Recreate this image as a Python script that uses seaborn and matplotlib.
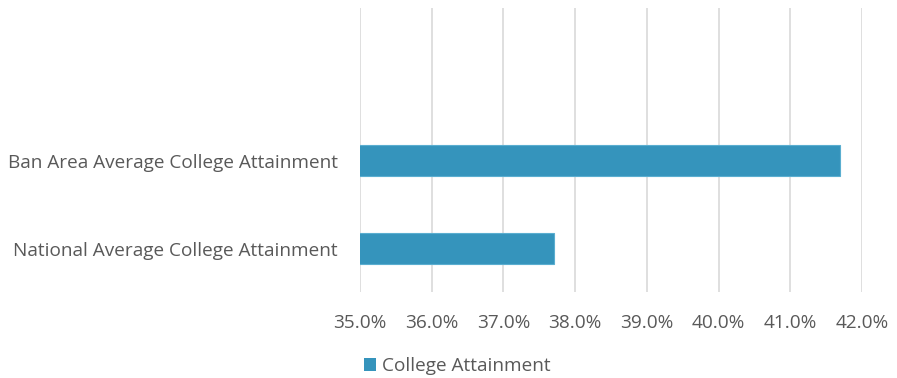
import matplotlib
matplotlib.use("Agg")
import matplotlib.pyplot as plt
import seaborn as sns
import pandas as pd
from matplotlib.ticker import PercentFormatter, FixedLocator
from matplotlib.patches import Patch

categories = ["Ban Area Average College Attainment", "National Average College Attainment"]
values = [41.7, 37.7]
series_name = "College Attainment"
x_ticks = [35, 36, 37, 38, 39, 40, 41, 42]

sns.set_theme(style="white")
plt.rcParams["font.family"] = ["Open Sans", "DejaVu Sans"]

text_color = "#595959"
bar_color = "#3594BC"
grid_color = "#DCDCDC"

df = pd.DataFrame({"category": categories, "value": values})

fig = plt.figure(figsize=(8.97, 3.78), dpi=100)
ax = fig.add_axes([360 / 897, (378 - 292) / 378, (862 - 360) / 897, (292 - 8) / 378])

sns.barplot(data=df, x="value", y="category", orient="h", color=bar_color,
            saturation=1, width=0.35, edgecolor="#5AAED0", linewidth=0.8, ax=ax)

ax.set_xlim(35, 42)
ax.set_ylim(1.494, -1.733)
ax.xaxis.set_major_locator(FixedLocator(x_ticks))
ax.xaxis.set_major_formatter(PercentFormatter(decimals=1))
ax.grid(axis="x", color=grid_color, linewidth=1.3)
ax.set_axisbelow(True)
for s in ax.spines.values():
    s.set_visible(False)
ax.set_xlabel("")
ax.set_ylabel("")
ax.tick_params(axis="x", length=0, pad=15.5, labelsize=13.7, labelcolor=text_color)
ax.tick_params(axis="y", length=0, pad=16, labelsize=13.7, labelcolor=text_color)

handle = Patch(facecolor=bar_color, edgecolor="none")
fig.legend([handle], [series_name], loc="center", bbox_to_anchor=(457 / 897, 1 - 366 / 378),
           frameon=False, fontsize=13.7, labelcolor=text_color, handlelength=0.65,
           handleheight=0.65, handletextpad=0.3)

fig.savefig("out.png", dpi=100)
